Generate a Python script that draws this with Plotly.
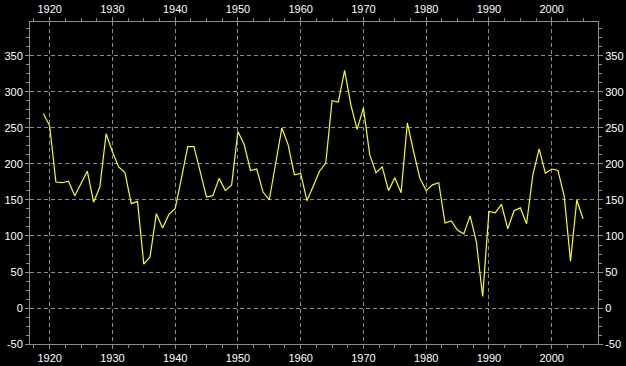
import plotly.graph_objects as go

years = list(range(1919, 2006))
values = [
    270, 253, 175, 174, 176, 156, 173, 190, 147, 168,   # 1919-1928
    242, 217, 196, 188, 145, 148, 61, 71, 131, 111,     # 1929-1938
    130, 138, 180, 224, 224, 188, 154, 156, 180, 163,   # 1939-1948
    171, 245, 227, 191, 193, 161, 150, 200, 250, 227,   # 1949-1958
    185, 187, 149, 169, 190, 201, 288, 286, 330, 282,   # 1959-1968
    248, 278, 213, 188, 196, 163, 181, 160, 257, 217,   # 1969-1978
    180, 163, 171, 174, 118, 121, 108, 103, 128, 92,    # 1979-1988
    16, 134, 132, 144, 110, 135, 139, 117, 185, 221,    # 1989-1998
    187, 193, 191, 155, 65, 150, 124,                   # 1999-2005
]

x_ticks = [1920, 1930, 1940, 1950, 1960, 1970, 1980, 1990, 2000]
y_ticks = [-50, 0, 50, 100, 150, 200, 250, 300, 350]

x_range = [1916.87, 2007.38]
y_range = [-50, 397.2]

GRAY = "#8c8c8c"
FONT = dict(family="Liberation Sans, Arial, sans-serif", size=11, color="#ffffff")

fig = go.Figure()
fig.add_trace(go.Scatter(x=years, y=values, mode="lines",
                         line=dict(color="#ffff00", width=1.2),
                         showlegend=False, hoverinfo="x+y"))
# invisible copy to anchor the mirrored (top/right) axes
fig.add_trace(go.Scatter(x=years, y=values, mode="lines", xaxis="x2", yaxis="y2",
                         line=dict(color="#ffff00", width=1), opacity=0,
                         showlegend=False, hoverinfo="skip"))

common_x = dict(range=x_range, tickmode="array", tickvals=x_ticks,
                ticktext=[str(t) for t in x_ticks],
                ticks="outside", ticklen=4, tickcolor=GRAY, tickwidth=1,
                showline=True, linecolor=GRAY, linewidth=1,
                zeroline=False, tickfont=FONT, automargin=False,
                minor=dict(tickmode="linear", tick0=1920, dtick=2.5, ticks="outside",
                           ticklen=3, tickcolor=GRAY, showgrid=False))
common_y = dict(range=y_range, tickmode="array", tickvals=y_ticks,
                ticktext=[str(t) for t in y_ticks],
                ticks="outside", ticklen=4, tickcolor=GRAY, tickwidth=1,
                showline=True, linecolor=GRAY, linewidth=1,
                zeroline=False, tickfont=FONT, automargin=False,
                minor=dict(tickmode="linear", tick0=0, dtick=12.5, ticks="outside",
                           ticklen=3, tickcolor=GRAY, showgrid=False))

fig.update_layout(
    width=626, height=366,
    margin=dict(l=30, r=28, t=22, b=22, pad=0),
    paper_bgcolor="#000000", plot_bgcolor="#000000",
    xaxis=dict(**common_x, side="bottom", showgrid=True, gridcolor=GRAY,
               gridwidth=1, griddash="4px,3px"),
    yaxis=dict(**common_y, side="left", showgrid=True, gridcolor=GRAY,
               gridwidth=1, griddash="4px,3px"),
    xaxis2=dict(**common_x, side="top", overlaying="x", showgrid=False),
    yaxis2=dict(**common_y, side="right", overlaying="y", showgrid=False),
    showlegend=False,
)

fig.write_html(
    "out.html",
    config={"displayModeBar": False},
    post_script="document.body.style.margin='0';document.body.style.background='#000';",
)
